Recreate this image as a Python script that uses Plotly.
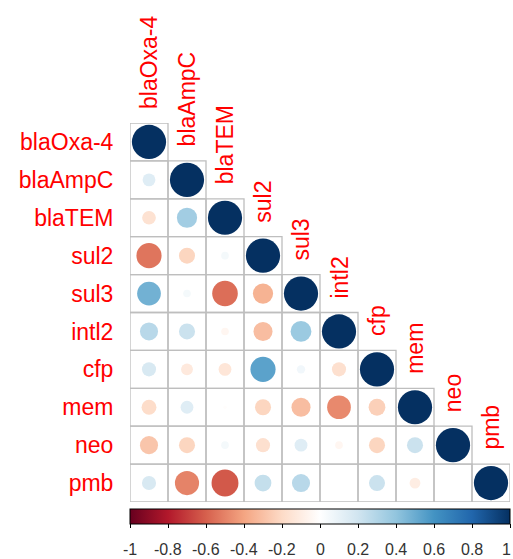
import numpy as np
import plotly.graph_objects as go

labels = ["blaOxa-4", "blaAmpC", "blaTEM", "sul2", "sul3", "intl2", "cfp", "mem", "neo", "pmb"]

# lower-triangle correlation values, row by row (row i has i+1 values incl. diagonal)
corr_rows = [
    [1.0],
    [0.14, 1.0],
    [-0.16, 0.35, 1.0],
    [-0.54, -0.22, 0.05, 1.0],
    [0.48, 0.05, -0.56, -0.35, 1.0],
    [0.28, 0.22, -0.05, -0.31, 0.37, 1.0],
    [0.17, -0.12, -0.14, 0.54, 0.06, -0.17, 1.0],
    [-0.19, 0.14, -0.01, -0.22, -0.31, -0.48, -0.24, 1.0],
    [-0.28, -0.22, 0.05, -0.17, 0.14, -0.05, -0.22, 0.22, 1.0],
    [0.17, -0.50, -0.62, 0.24, 0.28, 0.0, 0.22, -0.10, 0.0, 1.0],
]

cb_ticks = [-1, -0.8, -0.6, -0.4, -0.2, 0, 0.2, 0.4, 0.6, 0.8, 1]
cb_text = ["-1", "-0.8", "-0.6", "-0.4", "-0.2", "0", "0.2", "0.4", "0.6", "0.8", "1"]

rdbu = ["#67001F", "#B2182B", "#D6604D", "#F4A582", "#FDDBC7", "#FFFFFF",
        "#D1E5F0", "#92C5DE", "#4393C3", "#2166AC", "#053061"]
colorscale = [[i / (len(rdbu) - 1), c] for i, c in enumerate(rdbu)]

n = len(labels)
W, H = 513, 559
ml, mr, mt, mb = 130, 3, 123, 57
plot_h = H - mt - mb
cell_px = (W - ml - mr) / n
max_d = cell_px * 0.9

xs, ys, vals = [], [], []
for i, row in enumerate(corr_rows):
    for j, v in enumerate(row):
        xs.append(j + 1)
        ys.append(i + 1)
        vals.append(v)
vals = np.array(vals)
sizes = max_d * np.sqrt(np.abs(vals))

fig = go.Figure()

# grid cells (lower triangle incl. diagonal)
gx, gy = [], []
for i in range(n):
    for j in range(i + 1):
        x0, x1 = j + 0.5, j + 1.5
        y0, y1 = i + 0.5, i + 1.5
        gx += [x0, x1, x1, x0, x0, None]
        gy += [y0, y0, y1, y1, y0, None]
fig.add_trace(go.Scatter(x=gx, y=gy, mode="lines",
                         line=dict(color="#BEBEBE", width=1.3),
                         hoverinfo="skip", showlegend=False))

cb_top = -6.6 / plot_h
fig.add_trace(go.Scatter(
    x=xs, y=ys, mode="markers",
    marker=dict(size=sizes, color=vals, colorscale=colorscale, cmin=-1, cmax=1,
                line=dict(width=0), opacity=1,
                colorbar=dict(orientation="h", x=0.5, xanchor="center",
                              y=cb_top, yanchor="top", len=1, lenmode="fraction",
                              thickness=15, xpad=0, ypad=0,
                              outlinewidth=1, outlinecolor="black",
                              ticks="outside", ticklen=4, tickcolor="black",
                              tickvals=cb_ticks, showticklabels=False)),
    showlegend=False, hovertemplate="%{marker.color:.2f}<extra></extra>"))

# colour-bar tick labels, positioned on the same horizontal scale as the bar
lab_y = -(549 - (H - mb)) / plot_h
for k, (v, t) in enumerate(zip(cb_ticks, cb_text)):
    last = k == len(cb_ticks) - 1
    fig.add_annotation(x=0.5 + (v + 1) / 2 * n, y=lab_y, xref="x", yref="paper",
                       text=t, showarrow=False,
                       xanchor="right" if last else "center", xshift=3 if last else 0,
                       yanchor="middle",
                       font=dict(family="Liberation Sans", size=16, color="#333"))

for j, lab in enumerate(labels):
    fig.add_annotation(x=j + 1, y=j + 0.5, text=lab, showarrow=False,
                       textangle=-90, xanchor="center", yanchor="bottom", yshift=12,
                       font=dict(family="Liberation Sans", size=23, color="red"))

fig.update_xaxes(range=[0.5, n + 0.5], showgrid=False, zeroline=False,
                 showticklabels=False, ticks="", showline=False, fixedrange=True,
                 automargin=False)
fig.update_yaxes(range=[n + 0.5, 0.5], showgrid=False, zeroline=False,
                 tickvals=list(range(1, n + 1)), ticktext=labels,
                 ticks="outside", ticklen=11, tickcolor="rgba(0,0,0,0)",
                 tickfont=dict(family="Liberation Sans", size=23, color="red"),
                 showline=False, fixedrange=True, automargin=False)

fig.update_layout(width=W, height=H,
                  margin=dict(l=ml, r=mr, t=mt, b=mb, autoexpand=False),
                  plot_bgcolor="white", paper_bgcolor="white")

fig.write_html("out.html", config={"displayModeBar": False},
               post_script="document.body.style.margin='0';document.body.style.overflow='hidden';")
